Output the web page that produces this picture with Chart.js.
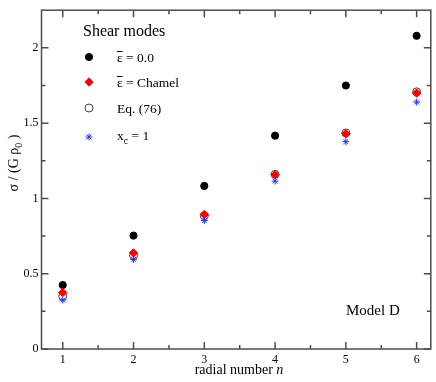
<!DOCTYPE html>
<html>
<head>
<meta charset="utf-8">
<script src="https://cdn.jsdelivr.net/npm/chart.js@4/dist/chart.umd.min.js"></script>
<style>
  html, body { margin: 0; padding: 0; background: #fff; }
  #wrap { width: 436px; height: 382px; }
</style>
</head>
<body>
<div id="wrap"><canvas id="myChart" width="436" height="382"></canvas></div>
<script>
// radial numbers
const nValues = [1, 2, 3, 4, 5, 6];
// sigma / (G rho_0) for each curve
const epsZero = [0.425, 0.753, 1.083, 1.417, 1.750, 2.080];
const epsChamel = [0.375, 0.638, 0.893, 1.158, 1.430, 1.700];
const eq76 = [0.350, 0.620, 0.885, 1.160, 1.435, 1.708];
const xcOne = [0.325, 0.595, 0.853, 1.115, 1.377, 1.640];
// axis ticks
const xTicks = [1, 2, 3, 4, 5, 6];
const xMinor = [1.5, 2.5, 3.5, 4.5, 5.5];
const yTicks = [0, 0.5, 1, 1.5, 2];
const yMinor = [0.25, 0.75, 1.25, 1.75];

const serif = "'Liberation Serif', 'DejaVu Serif', serif";
const frameColor = '#4d4d4d';

const pts = arr => arr.map((v, i) => ({ x: nValues[i], y: v }));

// frame, inward ticks, axis titles, legend and label
const decor = {
  id: 'decor',
  afterDraw(c) {
    const ctx = c.ctx;
    const a = c.chartArea;
    const xs = c.scales.x, ys = c.scales.y;
    ctx.save();
    ctx.strokeStyle = frameColor;
    ctx.lineWidth = 1.5;
    ctx.strokeRect(a.left, a.top, a.right - a.left, a.bottom - a.top);
    ctx.beginPath();
    const tk = (vals, len) => {
      vals.forEach(v => {
        const px = xs.getPixelForValue(v);
        ctx.moveTo(px, a.bottom); ctx.lineTo(px, a.bottom - len);
        ctx.moveTo(px, a.top); ctx.lineTo(px, a.top + len);
      });
    };
    const tky = (vals, len) => {
      vals.forEach(v => {
        const py = ys.getPixelForValue(v);
        ctx.moveTo(a.left, py); ctx.lineTo(a.left + len, py);
        ctx.moveTo(a.right, py); ctx.lineTo(a.right - len, py);
      });
    };
    tk(xTicks, 7); tk(xMinor, 4);
    tky(yTicks, 7); tky(yMinor, 4);
    ctx.stroke();

    ctx.fillStyle = '#000';
    ctx.textBaseline = 'alphabetic';
    ctx.textAlign = 'left';
    // x title
    const t1 = 'radial number ';
    ctx.font = '14px ' + serif;
    const w1 = ctx.measureText(t1).width;
    ctx.font = 'italic 14px ' + serif;
    const w2 = ctx.measureText('n').width;
    let sx = 239 - (w1 + w2) / 2;
    ctx.font = '14px ' + serif;
    ctx.fillText(t1, sx, 374);
    ctx.font = 'italic 14px ' + serif;
    ctx.fillText('n', sx + w1, 374);

    // y title
    ctx.save();
    ctx.translate(18, 163);
    ctx.rotate(-Math.PI / 2);
    ctx.font = '14px ' + serif;
    const pa = 'σ / (G ρ', pb = '0', pc = ' )';
    const wa = ctx.measureText(pa).width, wc = ctx.measureText(pc).width;
    ctx.font = '10px ' + serif;
    const wb = ctx.measureText(pb).width;
    let yx = -(wa + wb + wc) / 2;
    ctx.font = '14px ' + serif;
    ctx.fillText(pa, yx, 0);
    ctx.font = '10px ' + serif;
    ctx.fillText(pb, yx + wa, 4);
    ctx.font = '14px ' + serif;
    ctx.fillText(pc, yx + wa + wb, 0);
    ctx.restore();

    // legend
    ctx.font = '16px ' + serif;
    ctx.fillText('Shear modes', 83, 36);
    const mx = 89, tx = 117;
    const rows = [57, 82, 108, 137];
    c.data.datasets.forEach((ds, i) => {
      ctx.fillStyle = ds.backgroundColor;
      ctx.strokeStyle = ds.borderColor;
      ctx.lineWidth = ds.borderWidth;
      Chart.helpers.drawPoint(ctx, {
        pointStyle: ds.pointStyle, radius: ds.pointRadius, rotation: 0,
        borderWidth: ds.borderWidth
      }, mx, rows[i]);
    });
    ctx.fillStyle = '#000';
    ctx.strokeStyle = '#000';
    ctx.font = '13.5px ' + serif;
    const bar = (x, y) => {
      const w = ctx.measureText('ε').width;
      ctx.lineWidth = 1;
      ctx.beginPath();
      ctx.moveTo(x, y - 10.5); ctx.lineTo(x + w, y - 10.5);
      ctx.stroke();
    };
    ctx.fillText('ε = 0.0', tx, rows[0] + 5);
    bar(tx, rows[0] + 5);
    ctx.fillText('ε = Chamel', tx, rows[1] + 5);
    bar(tx, rows[1] + 5);
    ctx.fillText('Eq. (76)', tx, rows[2] + 5);
    ctx.fillText('x', tx, rows[3] + 3);
    const wx = ctx.measureText('x').width;
    ctx.font = '10px ' + serif;
    ctx.fillText('c', tx + wx, rows[3] + 7);
    const wcs = ctx.measureText('c').width;
    ctx.font = '13.5px ' + serif;
    ctx.fillText(' = 1', tx + wx + wcs, rows[3] + 3);

    ctx.font = '15px ' + serif;
    ctx.fillText('Model D', 346, 315);
    ctx.restore();
  }
};

new Chart('myChart', {
  type: 'scatter',
  data: {
    datasets: [
      { label: 'eps 0.0', data: pts(epsZero), pointStyle: 'circle', pointRadius: 3.6,
        backgroundColor: '#000', borderColor: '#000', borderWidth: 1, order: 4 },
      { label: 'eps Chamel', data: pts(epsChamel), pointStyle: 'rectRot', pointRadius: 4.2,
        backgroundColor: '#ff0000', borderColor: '#ff0000', borderWidth: 1, order: 2 },
      { label: 'Eq. (76)', data: pts(eq76), pointStyle: 'circle', pointRadius: 4,
        backgroundColor: 'rgba(0,0,0,0)', borderColor: '#444', borderWidth: 1, order: 3 },
      { label: 'xc = 1', data: pts(xcOne), pointStyle: 'star', pointRadius: 3.4,
        backgroundColor: '#2030ff', borderColor: '#2030ff', borderWidth: 1, order: 1 }
    ]
  },
  options: {
    responsive: false,
    animation: false,
    layout: { padding: { top: 3, right: 2, left: 0, bottom: 0 } },
    plugins: { legend: { display: false }, tooltip: { enabled: false } },
    scales: {
      x: {
        type: 'linear', min: 0.7, max: 6.2,
        grid: { display: false, drawTicks: false },
        border: { display: false },
        afterBuildTicks: s => { s.ticks = xTicks.map(v => ({ value: v })); },
        afterFit: s => { s.height = 33; },
        ticks: { padding: 4, color: '#000', font: { family: serif, size: 12 },
          callback: v => String(v) }
      },
      y: {
        type: 'linear', min: 0, max: 2.25,
        grid: { display: false, drawTicks: false },
        border: { display: false },
        afterBuildTicks: s => { s.ticks = yTicks.map(v => ({ value: v })); },
        afterFit: s => { s.width = 41.5; },
        ticks: { padding: 3, color: '#000', font: { family: serif, size: 12 },
          callback: v => String(v) }
      }
    }
  },
  plugins: [decor]
});
</script>
</body>
</html>
